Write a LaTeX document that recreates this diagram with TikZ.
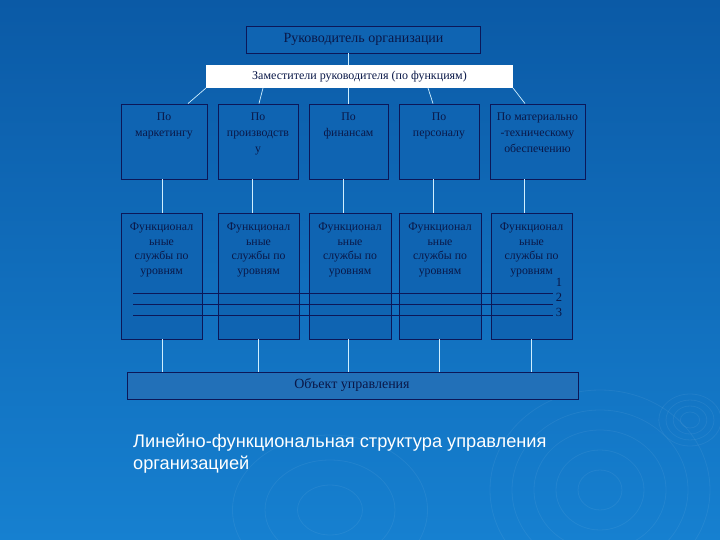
\documentclass[tikz,border=0pt]{standalone}
\usepackage{fontspec}
\setmainfont{Liberation Serif}
\newfontfamily\capfont{Liberation Sans}
\usetikzlibrary{calc}
\definecolor{bgtop}{HTML}{0B5AA6}
\definecolor{bgbot}{HTML}{1680D0}
\definecolor{boxfill}{HTML}{0F64B2}
\definecolor{navy}{HTML}{0C1758}
\definecolor{ink}{HTML}{0A1848}
\definecolor{conn}{HTML}{CFEFFF}
\tikzset{
  box/.style={draw=navy, line width=0.9pt, fill=boxfill, inner sep=0pt},
  boxtext/.style={text=ink, font=\fontsize{11.8}{16}\selectfont, align=center, anchor=north, inner sep=0pt},
  lowtext/.style={boxtext, font=\fontsize{11.8}{14.5}\selectfont},
  connector/.style={draw=conn, line width=0.7pt},
  level/.style={draw=navy, line width=0.9pt},
  ripple/.style={draw=white, opacity=0.06, line width=0.8pt}
}
\begin{document}
\begin{tikzpicture}[x=1pt,y=-1pt]
\shade[top color=bgtop, bottom color=bgbot] (0,0) rectangle (720,540);
\useasboundingbox (0,0) rectangle (720,540);
% decorative ripples
\foreach \r in {8,14,20,26} {\draw[ripple] (690,420) ellipse ({\r*1.2} and \r);}
\foreach \r in {20,40,60,80,100} {\draw[ripple] (600,490) ellipse ({\r*1.1} and \r);}
\foreach \r in {25,50,75} {\draw[ripple] (330,510) ellipse ({\r*1.3} and \r);}
% top
\node[box, minimum width=234pt, minimum height=27pt] (head) at (363,39.5) {};
\node[text=ink, font=\fontsize{14}{16}\selectfont] (headt) at (363.5,39) {Руководитель организации};
\node[fill=white, draw=none, minimum width=307pt, minimum height=23pt, inner sep=0pt] (bar) at (359.5,76.5) {};
\node[text=ink, font=\fontsize{12}{14}\selectfont] (bart) at (bar) {Заместители руководителя (по функциям)};
\draw[connector] (head.south -| 348,0) -- (bar.north -| 348,0);
% row 1
\node[box, minimum width=86pt, minimum height=75pt] (b1) at (164,141.5) {};
\node[box, minimum width=80pt, minimum height=75pt] (b2) at (258,141.5) {};
\node[box, minimum width=79pt, minimum height=75pt] (b3) at (348.5,141.5) {};
\node[box, minimum width=80pt, minimum height=75pt] (b4) at (439,141.5) {};
\node[box, minimum width=95pt, minimum height=75pt] (b5) at (537.5,141.5) {};
\node[boxtext] (t1) at ($(b1.north)+(0,9.5)$) {По\\маркетингу};
\node[boxtext] (t2) at ($(b2.north)+(0,9.5)$) {По\\производств\\у};
\node[boxtext] (t3) at ($(b3.north)+(0,9.5)$) {По\\финансам};
\node[boxtext] (t4) at ($(b4.north)+(0,9.5)$) {По\\персоналу};
\node[boxtext] (t5) at ($(b5.north)+(0,9.5)$) {По материально\\-техническому\\обеспечению};
% bar -> row 1
\draw[connector] (206,88) -- ([xshift=24pt]b1.north);
\draw[connector] (263,88) -- ([xshift=1pt]b2.north);
\draw[connector] (348,88) -- ([xshift=-0.5pt]b3.north);
\draw[connector] (428,88) -- ([xshift=-6pt]b4.north);
\draw[connector] (513,88) -- ([xshift=-12.5pt]b5.north);
% row 2
\node[box, minimum width=81pt, minimum height=126pt] (c1) at (161.5,276) {};
\node[box, minimum width=81pt, minimum height=126pt] (c2) at (258.5,276) {};
\node[box, minimum width=82pt, minimum height=126pt] (c3) at (350,276) {};
\node[box, minimum width=82pt, minimum height=126pt] (c4) at (440,276) {};
\node[box, minimum width=81pt, minimum height=126pt] (c5) at (531.5,276) {};
\foreach \i in {1,...,5} {
  \node[lowtext] (u\i) at ($(c\i.north)+(0,10.5)$) {Функционал\\ьные\\службы по\\уровням};
}
% row1 -> row2
\draw[connector] ([xshift=-2pt]b1.south) -- (c1.north -| {162},0);
\draw[connector] (b2.south -| 252,0) -- (c2.north -| 252,0);
\draw[connector] (b3.south -| 343,0) -- (c3.north -| 343,0);
\draw[connector] (b4.south -| 433,0) -- (c4.north -| 433,0);
\draw[connector] (b5.south -| 524,0) -- (c5.north -| 524,0);
% level lines
\coordinate (l1a) at (133,293); \coordinate (l1b) at (553,293);
\coordinate (l2a) at (133,304); \coordinate (l2b) at (553,304);
\coordinate (l3a) at (133,315); \coordinate (l3b) at (553,315);
\draw[level] (l1a) -- (l1b);
\draw[level] (l2a) -- (l2b);
\draw[level] (l3a) -- (l3b);
\node[text=ink, font=\fontsize{12.5}{14}\selectfont] (n1) at (559,282) {1};
\node[text=ink, font=\fontsize{12.5}{14}\selectfont] (n2) at (559,297) {2};
\node[text=ink, font=\fontsize{12.5}{14}\selectfont] (n3) at (559,312) {3};
% object
\node[box, fill=boxfill!92!white, minimum width=451pt, minimum height=27pt] (obj) at (352.5,385.5) {};
\node[text=ink, font=\fontsize{14}{16}\selectfont] (objt) at (352,385) {Объект управления};
\draw[connector] (c1.south -| 162,0) -- (obj.north -| 162,0);
\draw[connector] (c2.south -| 258,0) -- (obj.north -| 258,0);
\draw[connector] (c3.south -| 348,0) -- (obj.north -| 348,0);
\draw[connector] (c4.south -| 439,0) -- (obj.north -| 439,0);
\draw[connector] (c5.south -| 531,0) -- (obj.north -| 531,0);
% caption
\node[text=white, font=\capfont\fontsize{18.2}{22}\selectfont, align=left, anchor=north west, inner sep=0pt] (cap) at (133,434) {Линейно-функциональная структура управления\\организацией};
\end{tikzpicture}
\end{document}
